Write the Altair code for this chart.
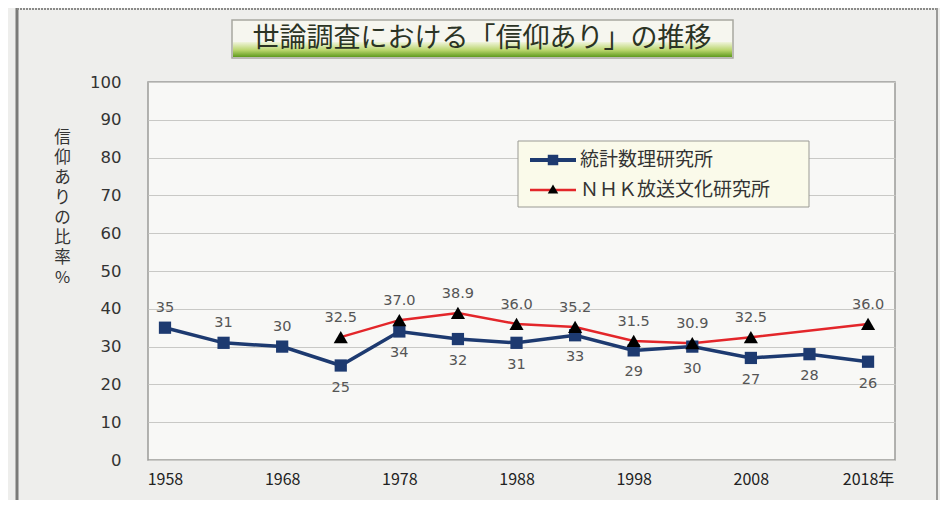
import altair as alt
import pandas as pd

# ---- data ----
ism_name = "統計数理研究所"
nhk_name = "ＮＨＫ放送文化研究所"
ism_years = [1958, 1963, 1968, 1973, 1978, 1983, 1988, 1993, 1998, 2003, 2008, 2013, 2018]
ism_values = [35, 31, 30, 25, 34, 32, 31, 33, 29, 30, 27, 28, 26]
ism_label_side = ["above", "above", "above", "below", "below", "below", "below",
                  "below", "below", "below", "below", "below", "below"]
nhk_years = [1973, 1978, 1983, 1988, 1993, 1998, 2003, 2008, 2018]
nhk_values = [32.5, 37.0, 38.9, 36.0, 35.2, 31.5, 30.9, 32.5, 36.0]
x_ticks = [1958, 1968, 1978, 1988, 1998, 2008, 2018]
y_ticks = [0, 10, 20, 30, 40, 50, 60, 70, 80, 90, 100]
title_text = "世論調査における「信仰あり」の推移"
y_title = ["信", "仰", "あ", "り", "の", "比", "率", "%"]

ism_df = pd.DataFrame({"year": ism_years, "value": ism_values, "side": ism_label_side,
                       "series": ism_name})
nhk_df = pd.DataFrame({"year": nhk_years, "value": nhk_values, "series": nhk_name})

W, H = 747, 378
BLUE = "#1d3a70"
RED = "#e3262a"
LABEL = "#555555"
NUM_FONT = "DejaVu Sans"
JP_FONT = "Noto Sans CJK JP"

xs = alt.Scale(domain=[1956.55, 2020.3], nice=False, zero=False)
ys = alt.Scale(domain=[0, 100], nice=False)

X = alt.X("year:Q", scale=xs, axis=alt.Axis(
    values=x_ticks, grid=False, ticks=False, domain=False, labelPadding=11,
    labelFontSize=16, labelFont="Liberation Sans Narrow, Noto Sans CJK JP",
    labelColor="#222", labelFlush=False,
    labelExpr="datum.value == 2018 ? '2018年' : datum.value", title=None))
Y = alt.Y("value:Q", scale=ys, axis=alt.Axis(
    values=y_ticks, grid=True, gridColor="#c9c9c6", gridWidth=1, ticks=False,
    domain=False, labelPadding=27, labelFontSize=16.5, labelFont=NUM_FONT,
    labelColor="#333", title=y_title, titleAngle=0, titleFont=JP_FONT,
    titleFontSize=16.5, titleFontWeight="normal", titleColor="#333",
    titleLineHeight=20, titleX=-86, titleY=47, titleAlign="center",
    titleBaseline="top"))

one = pd.DataFrame({"a": [0]})

# ---- decorations ----
frame_left = alt.Chart(one).mark_rule(color="#7a7a78", strokeWidth=3).encode(
    x=alt.value(-131), y=alt.value(-74), y2=alt.value(420))
frame_top = alt.Chart(one).mark_rule(color="#8a8a88", strokeWidth=2, strokeDash=[2, 1]).encode(
    x=alt.value(-131), x2=alt.value(790), y=alt.value(-73))
frame_right = alt.Chart(one).mark_rule(color="#9a9a98", strokeWidth=2).encode(
    x=alt.value(789), y=alt.value(-74), y2=alt.value(420))

title_box = alt.Chart(one).mark_rect(fill="#f6f6ef", stroke="#a8a8a0", strokeWidth=1.5).encode(
    x=alt.value(84), x2=alt.value(585), y=alt.value(-62), y2=alt.value(-24))
title_grass = alt.Chart(one).mark_rect(
    fill={"gradient": "linear", "x1": 0, "y1": 0, "x2": 0, "y2": 1,
          "stops": [{"offset": 0, "color": "#f0f4dc"}, {"offset": 0.55, "color": "#b9d56c"},
                    {"offset": 1, "color": "#5f9a1e"}]}).encode(
    x=alt.value(85), x2=alt.value(584), y=alt.value(-40), y2=alt.value(-25))
title_txt = alt.Chart(one).mark_text(font=JP_FONT, fontSize=27, color="#2b3324",
                                     fontWeight="normal", align="center",
                                     baseline="middle").encode(
    x=alt.value(334), y=alt.value(-43), text=alt.value(title_text))

# ---- data layers ----
ism_line = alt.Chart(ism_df).mark_line(color=BLUE, strokeWidth=3.5).encode(x=X, y=Y)
ism_pts = alt.Chart(ism_df).mark_point(shape="square", filled=True, color=BLUE,
                                       size=150, opacity=1).encode(x=X, y=Y)
ism_above = alt.Chart(ism_df).transform_filter("datum.side == 'above'").mark_text(
    font=NUM_FONT, fontSize=14.5, color=LABEL, dy=-20).encode(
    x=X, y=Y, text=alt.Text("value:Q", format="d"))
ism_below = alt.Chart(ism_df).transform_filter("datum.side == 'below'").mark_text(
    font=NUM_FONT, fontSize=14.5, color=LABEL, dy=22).encode(
    x=X, y=Y, text=alt.Text("value:Q", format="d"))

nhk_line = alt.Chart(nhk_df).mark_line(color=RED, strokeWidth=2.5).encode(x=X, y=Y)
nhk_pts = alt.Chart(nhk_df).mark_point(shape="triangle-up", filled=True, color="#000000",
                                       size=200, opacity=1).encode(x=X, y=Y)
nhk_lab = alt.Chart(nhk_df).mark_text(font=NUM_FONT, fontSize=14.5, color=LABEL, dy=-19).encode(
    x=X, y=Y, text=alt.Text("value:Q", format=".1f"))

# ---- legend ----
leg_box = alt.Chart(one).mark_rect(fill="#fafaea", stroke="#9a9a94", strokeWidth=1).encode(
    x=alt.value(370), x2=alt.value(661), y=alt.value(59), y2=alt.value(125))
leg1_line = alt.Chart(one).mark_rule(color=BLUE, strokeWidth=4).encode(
    x=alt.value(382), x2=alt.value(428), y=alt.value(78))
leg1_pt = alt.Chart(one).mark_point(shape="square", filled=True, color=BLUE, size=110,
                                    opacity=1).encode(x=alt.value(405), y=alt.value(78))
leg1_txt = alt.Chart(one).mark_text(font=JP_FONT, fontSize=19, color="#333", align="left",
                                    baseline="middle").encode(
    x=alt.value(432), y=alt.value(78), text=alt.value(ism_name))
leg2_line = alt.Chart(one).mark_rule(color=RED, strokeWidth=2.5).encode(
    x=alt.value(382), x2=alt.value(428), y=alt.value(108))
leg2_pt = alt.Chart(one).mark_point(shape="triangle-up", filled=True, color="#000", size=110,
                                    opacity=1).encode(x=alt.value(405), y=alt.value(107))
leg2_txt = alt.Chart(one).mark_text(font=JP_FONT, fontSize=19, color="#333", align="left",
                                    baseline="middle").encode(
    x=alt.value(432), y=alt.value(108), text=alt.value(nhk_name))

chart = alt.layer(
    frame_left, frame_top, frame_right, title_box, title_grass, title_txt,
    ism_line, nhk_line, ism_pts, nhk_pts, ism_above, ism_below, nhk_lab,
    leg_box, leg1_line, leg1_pt, leg1_txt, leg2_line, leg2_pt, leg2_txt,
).properties(
    width=W, height=H,
    autosize=alt.AutoSizeParams(type="none"),
    padding={"left": 140, "top": 74, "right": 45, "bottom": 40},
    background="#eeeeec",
).configure_view(
    fill="#f8f8f6", stroke="#9b9b98", strokeWidth=1.5, clip=False
)

chart.save("out.html", embed_options={"renderer": "svg", "actions": False})
